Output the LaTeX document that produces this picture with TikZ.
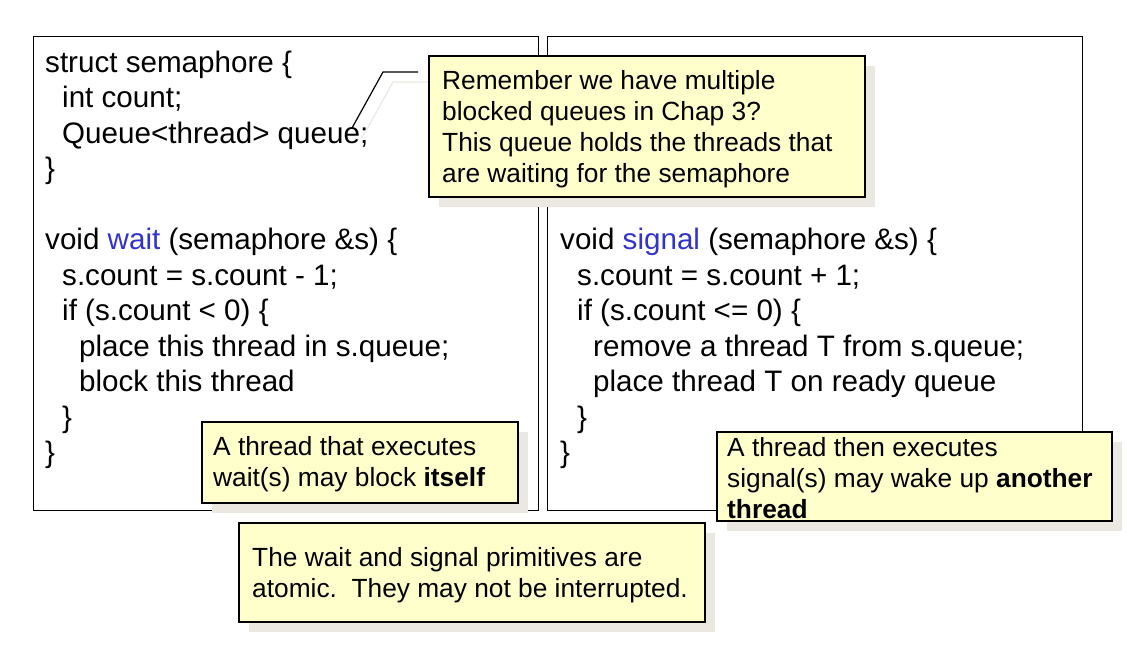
\documentclass[tikz,border=0pt]{standalone}
\usepackage{fontspec}
\setmainfont{Liberation Sans}
\usetikzlibrary{shadows}
\definecolor{noteyellow}{RGB}{255,255,204}
\definecolor{shadowgrey}{RGB}{234,232,225}
\definecolor{codeblue}{RGB}{51,51,204}
\begin{document}
\begin{tikzpicture}[x=1pt,y=-1pt,
  panel/.style={draw=black, line width=1.3pt, inner sep=0pt, anchor=north west},
  code/.style={anchor=base west, inner sep=0pt, font=\fontsize{29.6}{35.5}\selectfont},
  callout/.style={draw=black, line width=1.8pt, fill=noteyellow, anchor=north west, inner sep=0pt,
    drop shadow={shadow xshift=10pt, shadow yshift=-10pt, fill=shadowgrey, opacity=1}},
  notetext/.style={anchor=west, inner sep=0pt, align=left, font=\fontsize{26.3}{31}\selectfont},
  leader/.style={draw=black, line width=1.2pt},
  leadershadow/.style={draw=shadowgrey, line width=1.2pt}]
\useasboundingbox (0,0) rectangle (1127,648);
\fill[white] (0,0) rectangle (1127,648);

% main panels
\node[panel, minimum width=505pt, minimum height=474pt] (lbox) at (33,36) {};
\node[panel, minimum width=535pt, minimum height=474pt] (rbox) at (547,36) {};

% left code
\node[code] (l1) at (45,72) {struct semaphore \{};
\node[code] (l2) at (62,107.5) {int count;};
\node[code] (l3) at (62,143) {Queue<thread> queue;};
\node[code] (l4) at (45,178.5) {\}};
\node[code] (l5) at (45,249.5) {void {\color{codeblue}wait} (semaphore \&s) \{};
\node[code] (l6) at (62,285) {s.count = s.count - 1;};
\node[code] (l7) at (62,320.5) {if (s.count < 0) \{};
\node[code] (l8) at (79,356) {place this thread in s.queue;};
\node[code] (l9) at (79,391.5) {block this thread};
\node[code] (l10) at (62,427) {\}};
\node[code] (l11) at (45,462.5) {\}};

% right code
\node[code] (r1) at (560,249.5) {void {\color{codeblue}signal} (semaphore \&s) \{};
\node[code] (r2) at (577,285) {s.count = s.count + 1;};
\node[code] (r3) at (577,320.5) {if (s.count <= 0) \{};
\node[code] (r4) at (593,356) {remove a thread T from s.queue;};
\node[code] (r5) at (593,391.5) {place thread T on ready queue};
\node[code] (r6) at (577,427) {\}};
\node[code] (r7) at (560,462.5) {\}};

% leader line of the top callout
\coordinate (le) at (418,72);
\coordinate (lk) at (383,72);
\coordinate (lq) at (352,128);
\coordinate (les) at (428,82);
\coordinate (lks) at (393,82);
\coordinate (lqs) at (362,138);
\draw[leadershadow] (les) -- (lks) -- (lqs);
\draw[leader] (le) -- (lk) -- (lq);

% callouts
\node[callout, minimum width=436pt, minimum height=141pt] (c1) at (428,55) {};
\node[notetext] (t1) at ([xshift=14pt,yshift=-3pt]c1.west) {Remember we have multiple\\blocked queues in Chap 3?\\This queue holds the threads that\\are waiting for the semaphore};

\node[callout, minimum width=316pt, minimum height=81pt] (c2) at (201,421) {};
\node[notetext] (t2) at ([xshift=12pt,yshift=-2pt]c2.west) {A thread that executes\\wait(s) may block \textbf{itself}};

\node[callout, minimum width=395pt, minimum height=89pt] (c3) at (716,431) {};
\node[notetext] (t3) at ([xshift=11pt,yshift=-2pt]c3.west) {A thread then executes\\signal(s) may wake up \textbf{another}\\\textbf{thread}};

\node[callout, minimum width=466pt, minimum height=99pt] (c4) at (238,522) {};
\node[notetext] (t4) at ([xshift=14pt,yshift=-3pt]c4.west) {The wait and signal primitives are\\atomic.\ \ They may not be interrupted.};
\end{tikzpicture}
\end{document}
